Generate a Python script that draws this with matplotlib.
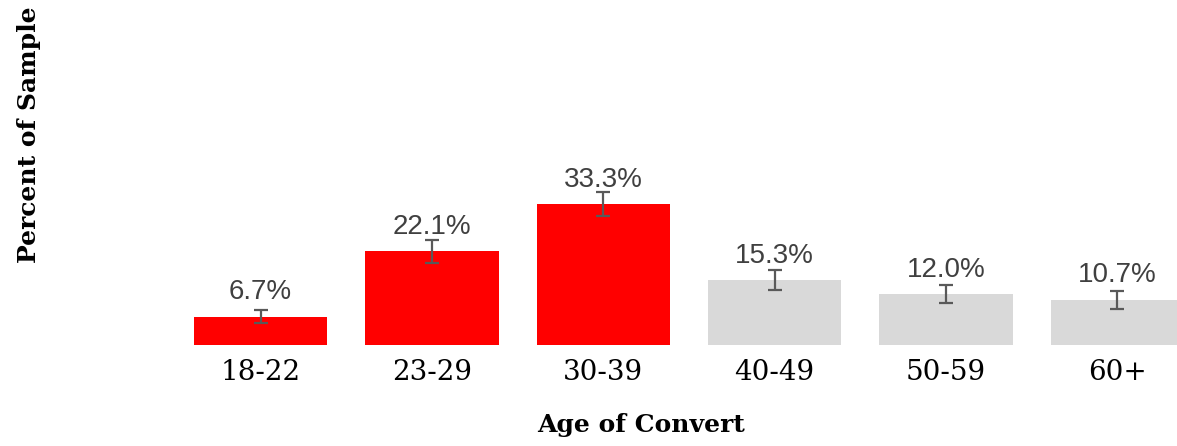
import matplotlib
matplotlib.use("Agg")
import matplotlib.pyplot as plt

categories = ["18-22", "23-29", "30-39", "40-49", "50-59", "60+"]
values = [6.7, 22.1, 33.3, 15.3, 12.0, 10.7]
errors = [1.6, 2.7, 2.75, 2.3, 2.2, 2.1]
labels = ["6.7%", "22.1%", "33.3%", "15.3%", "12.0%", "10.7%"]
colors = ["#FF0000", "#FF0000", "#FF0000", "#D9D9D9", "#D9D9D9", "#D9D9D9"]

W, H = 1177, 446
fig = plt.figure(figsize=(W / 100, H / 100), dpi=100)
ax = fig.add_axes([175 / W, 101 / H, 1028 / W, 169.4 / H])

x = list(range(len(categories)))
ax.bar(x, values, width=0.78, color=colors, zorder=2)
ax.errorbar(x, values, yerr=errors, fmt="none", ecolor="#595959",
            elinewidth=1.6, capsize=4.7, capthick=1.6, zorder=3)
for xi, v, t in zip(x, values, labels):
    ax.annotate(t, (xi, v), xytext=(0, 12.5), textcoords="offset points",
                ha="center", va="baseline", fontsize=20, color="#404040",
                family="Liberation Sans")

ax.set_xlim(-0.5, 5.5)
ax.set_ylim(0, 40)
ax.set_xticks(x)
ax.set_xticklabels(categories, family="DejaVu Serif", fontsize=20, color="black")
ax.tick_params(axis="x", length=0, pad=10)
ax.set_yticks([])
for s in ax.spines.values():
    s.set_visible(False)

ax.set_xlabel("Age of Convert", family="DejaVu Serif", fontweight="bold", fontsize=18)
ax.xaxis.set_label_coords(0.453, -0.40)
ax.set_ylabel("Percent of Sample", family="DejaVu Serif", fontweight="bold", fontsize=18)
ax.yaxis.set_label_coords(-0.130, 1.24)

fig.savefig("out.png", dpi=100)
